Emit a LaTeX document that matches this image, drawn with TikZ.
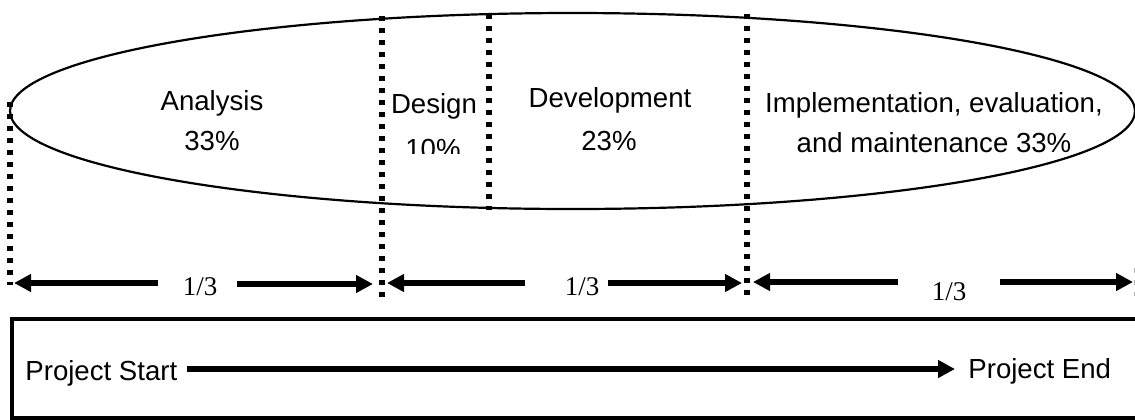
\documentclass[tikz,border=0pt]{standalone}
\usepackage{fontspec}
\setmainfont{Liberation Sans}
\newfontfamily\timesf{Liberation Serif}
\usetikzlibrary{arrows.meta}
\begin{document}
\begin{tikzpicture}[x=0.5pt,y=-0.5pt,
  lbl/.style={anchor=base,inner sep=0pt,font=\fontsize{13.8pt}{16pt}\selectfont},
  frac/.style={anchor=base,inner sep=0pt,font=\timesf\fontsize{13.5pt}{16pt}\selectfont},
  dotline/.style={line width=3pt,dash pattern=on 2.6pt off 3.4pt},
  dimarrow/.style={line width=2.6pt,-{Triangle[length=8.5pt,width=8.5pt]}},
]
\useasboundingbox (0,0) rectangle (1135,419);
\clip (0,0) rectangle (1135,419);

% ellipse
\draw[line width=1.1pt] (572.5,111) ellipse [x radius=562.5, y radius=98];

% dotted separators
\coordinate (d0t) at (10,102);  \coordinate (d0b) at (10,285);
\coordinate (d1t) at (382,16);  \coordinate (d1b) at (382,298);
\coordinate (d2t) at (489,14);  \coordinate (d2b) at (489,210);
\coordinate (d3t) at (747,14);  \coordinate (d3b) at (747,298);
\coordinate (d4t) at (1135,268); \coordinate (d4b) at (1135,296);
\draw[dotline] (d0t) -- (d0b);
\draw[dotline] (d1t) -- (d1b);
\draw[dotline] (d2t) -- (d2b);
\draw[dotline] (d3t) -- (d3b);
\draw[dotline,gray!60,line width=1pt] (d4t) -- (d4b);

% phase labels
\node[lbl] (ana) at (212,110) {Analysis};
\node[lbl] (anap) at (212,150) {33\%};
\node[lbl] (des) at (434,113) {Design};
\begin{scope}
  \clip (390,120) rectangle (480,153);
  \node[lbl] (desp) at (433,158) {10\%};
\end{scope}
\node[lbl] (dev) at (610,107) {Development};
\node[lbl] (devp) at (609,150) {23\%};
\node[lbl] (imp) at (934,112) {Implementation, evaluation,};
\node[lbl] (impp) at (934,152) {and maintenance 33\%};

% dimension arrows
\node[frac] (f1) at (200,295) {1/3};
\node[frac] (f2) at (582,295) {1/3};
\node[frac] (f3) at (949,300) {1/3};
\coordinate (a1l) at (158,283); \coordinate (a1lt) at (14,283);
\coordinate (a1r) at (237,284); \coordinate (a1rt) at (373,284);
\coordinate (a2l) at (525,283); \coordinate (a2lt) at (387,283);
\coordinate (a2r) at (608,283); \coordinate (a2rt) at (742,283);
\coordinate (a3l) at (898,282); \coordinate (a3lt) at (753,282);
\coordinate (a3r) at (1000,282); \coordinate (a3rt) at (1133,282);
\draw[dimarrow] (a1l) -- (a1lt);
\draw[dimarrow] (a1r) -- (a1rt);
\draw[dimarrow] (a2l) -- (a2lt);
\draw[dimarrow] (a2r) -- (a2rt);
\draw[dimarrow] (a3l) -- (a3lt);
\draw[dimarrow] (a3r) -- (a3rt);

% project box
\draw[line width=1.8pt] (12,319) rectangle (1160,418);
\node[lbl,anchor=base west] (ps) at (25,380) {Project Start};
\node[lbl,anchor=base west] (pe) at (968,378) {Project End};
\coordinate (pa) at (187,369);
\coordinate (pb) at (955,369);
\draw[dimarrow] (pa) -- (pb);
\end{tikzpicture}
\end{document}
